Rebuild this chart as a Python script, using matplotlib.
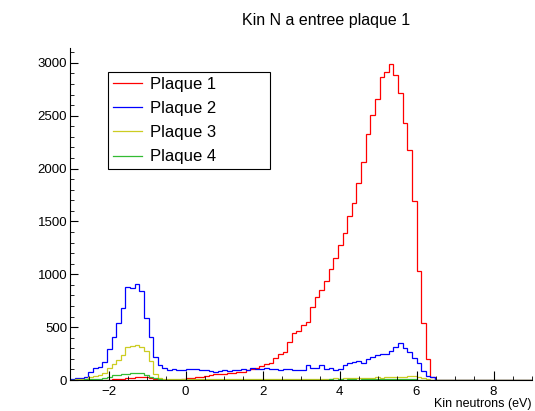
import numpy as np
import matplotlib.pyplot as plt
from matplotlib.ticker import MultipleLocator

plt.rcParams['font.family'] = ['Liberation Sans', 'DejaVu Sans']

# 100 bins from -3 to 9 eV
x_min, x_max, n_bins = -3.0, 9.0, 100

plaque1 = [0, 0, 0, 0, 0, 0, 0, 0, 2, 5,
           8, 12, 18, 22, 25, 28, 25, 20, 12, 6,
           3, 2, 2, 3, 5, 15, 18, 28, 32, 42,
           46, 55, 58, 60, 68, 70, 72, 80, 95, 105,
           112, 135, 150, 160, 211, 246, 268, 359, 441, 466,
           520, 551, 693, 781, 851, 938, 1052, 1150, 1279, 1392,
           1547, 1670, 1865, 2063, 2322, 2511, 2655, 2863, 2913, 2993,
           2882, 2719, 2426, 2171, 1692, 1030, 536, 196, 31, 0,
           0, 0, 0, 0, 0, 0, 0, 0, 0, 0,
           0, 0, 0, 0, 0, 0, 0, 0, 0, 0]

plaque2 = [10, 15, 20, 31, 79, 110, 126, 167, 293, 409,
           535, 677, 876, 866, 904, 844, 583, 403, 220, 142,
           116, 98, 100, 95, 95, 105, 105, 100, 95, 90,
           85, 80, 85, 90, 85, 95, 90, 100, 95, 110,
           105, 100, 110, 100, 100, 95, 100, 100, 90, 95,
           95, 140, 110, 110, 140, 105, 110, 95, 105, 142,
           157, 173, 183, 157, 195, 220, 236, 243, 246, 277,
           309, 346, 306, 268, 205, 157, 85, 41, 25, 0,
           0, 0, 0, 0, 0, 0, 0, 0, 0, 0,
           0, 0, 0, 0, 0, 0, 0, 0, 0, 0]

plaque3 = [3, 5, 8, 10, 25, 35, 50, 70, 110, 150,
           190, 240, 310, 320, 330, 315, 270, 180, 60, 20,
           10, 8, 6, 5, 6, 5, 7, 6, 5, 6,
           7, 6, 8, 7, 6, 8, 9, 8, 10, 9,
           8, 10, 9, 11, 10, 9, 12, 10, 11, 12,
           10, 12, 13, 11, 14, 13, 12, 15, 14, 16,
           15, 18, 17, 20, 19, 22, 24, 21, 26, 30,
           28, 33, 31, 36, 38, 30, 20, 10, 4, 0,
           0, 0, 0, 0, 0, 0, 0, 0, 0, 0,
           0, 0, 0, 0, 0, 0, 0, 0, 0, 0]

plaque4 = [2, 3, 3, 5, 6, 8, 10, 20, 30, 45,
           50, 55, 58, 65, 70, 68, 50, 30, 15, 8,
           4, 3, 3, 2, 3, 2, 3, 2, 3, 3,
           2, 3, 2, 3, 3, 2, 3, 3, 2, 3,
           3, 3, 2, 3, 3, 4, 3, 3, 4, 3,
           4, 3, 4, 4, 3, 4, 5, 4, 5, 4,
           5, 5, 4, 5, 6, 5, 6, 5, 6, 6,
           5, 6, 5, 6, 5, 4, 3, 2, 1, 0,
           0, 0, 0, 0, 0, 0, 0, 0, 0, 0,
           0, 0, 0, 0, 0, 0, 0, 0, 0, 0]

labels = ['Plaque 1', 'Plaque 2', 'Plaque 3', 'Plaque 4']
colors = ['#ff0000', '#0000ff', '#cccc22', '#33bb33']

edges = np.linspace(x_min, x_max, n_bins + 1)

fig = plt.figure(figsize=(5.35, 4.11), dpi=100)
ax = fig.add_axes([70 / 535, 1 - 380 / 411, 462 / 535, 332 / 411])

for vals, lab, col in zip([plaque1, plaque2, plaque3, plaque4], labels, colors):
    ax.stairs(vals, edges, color=col, lw=0.9, label=lab)

ax.set_xlim(x_min, x_max)
ax.set_ylim(0, 3140)

ax.spines['top'].set_visible(False)
ax.spines['right'].set_visible(False)
ax.spines['left'].set_linewidth(0.8)
ax.spines['bottom'].set_linewidth(0.8)

ax.xaxis.set_major_locator(MultipleLocator(2))
ax.xaxis.set_minor_locator(MultipleLocator(0.5))
ax.yaxis.set_major_locator(MultipleLocator(500))
ax.yaxis.set_minor_locator(MultipleLocator(100))
ax.tick_params(which='both', direction='in', top=False, right=False, labelsize=9.5)
ax.tick_params(axis='y', which='major', length=6, pad=2)
ax.tick_params(axis='y', which='minor', length=3)
ax.tick_params(axis='x', which='major', length=6.5, pad=4)
ax.tick_params(axis='x', which='minor', length=3)

ax.set_xlabel('Kin neutrons (eV)', loc='right', fontsize=9, labelpad=0)
fig.text(326 / 535, 1 - 20 / 411, 'Kin N a entree plaque 1', ha='center', va='center', fontsize=11.5)

# legend box spans roughly x 108..270, y 72..168 px
leg = ax.legend(loc='upper left',
                bbox_to_anchor=(108 / 535, 1 - 168 / 411, 162 / 535, 96 / 411),
                bbox_transform=fig.transFigure, mode='expand', fontsize=12,
                fancybox=False, framealpha=1, edgecolor='black', borderaxespad=0,
                handlelength=1.75, labelspacing=0.55, borderpad=0.3,
                handletextpad=0.45)
leg.get_frame().set_linewidth(0.8)
for h in leg.legend_handles:
    h.set_linewidth(0.9)

fig.savefig('out.png', dpi=100)
